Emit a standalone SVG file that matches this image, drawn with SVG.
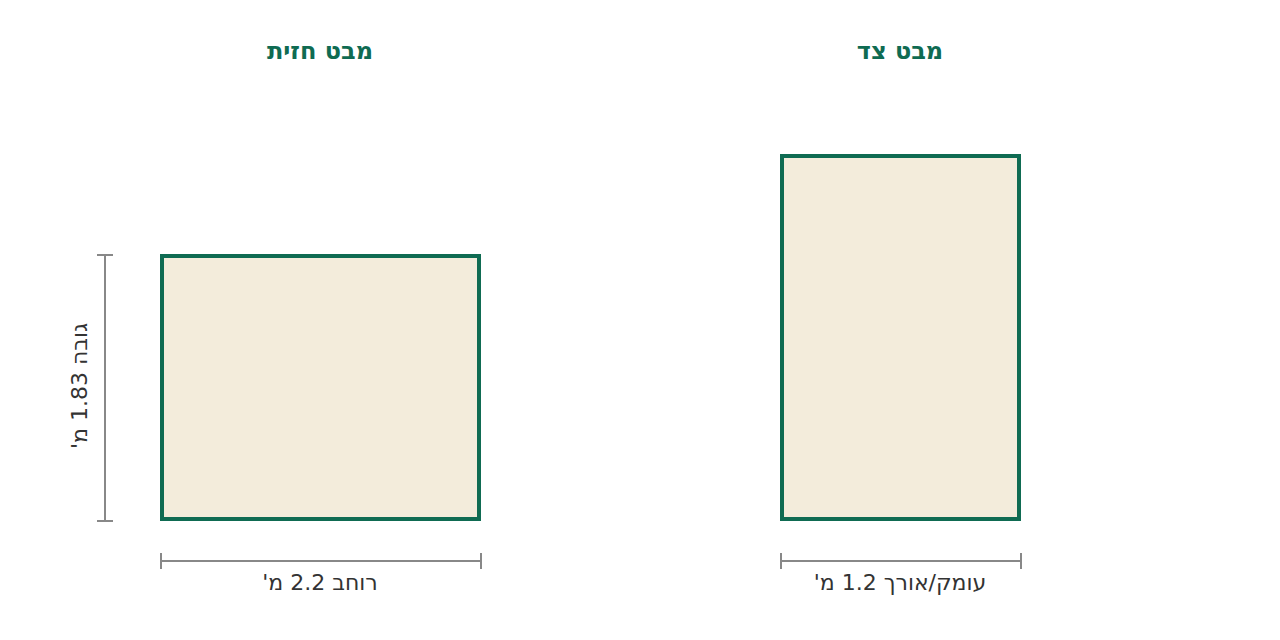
<svg xmlns="http://www.w3.org/2000/svg" width="1280" height="640" viewBox="0 0 1280 640">
<style>
.title{font-family:"DejaVu Sans",sans-serif;font-size:24px;font-weight:bold;fill:#0f6b52;text-anchor:middle}
.lbl{font-family:"DejaVu Sans",sans-serif;font-size:22px;fill:#333;text-anchor:middle}
.box{fill:#f3ecdb;stroke:#0f6b52;stroke-width:4}
.dim{stroke:#888;stroke-width:2;fill:none}
</style>
<rect width="1280" height="640" fill="#fff"/>
<g id="front">
<text class="title" x="320" y="59" direction="rtl">מבט חזית</text>
<rect class="box" x="162" y="256" width="317" height="263"/>
</g>
<g id="side">
<text class="title" x="900" y="59" direction="rtl">מבט צד</text>
<rect class="box" x="782" y="156" width="237" height="363"/>
</g>
<g id="connectors">
<path class="dim" d="M161 561H481M161 553V569M481 553V569"/>
<path class="dim" d="M781 561H1021M781 553V569M1021 553V569"/>
<path class="dim" d="M105 255V521M97 255H113M97 521H113"/>
</g>
<g id="labels">
<text class="lbl" x="320" y="590" direction="rtl">רוחב 2.2 מ'</text>
<text class="lbl" x="900" y="590" direction="rtl">עומק/אורך 1.2 מ'</text>
<text class="lbl" transform="translate(87,386) rotate(-90)" direction="rtl">גובה 1.83 מ'</text>
</g>
</svg>
